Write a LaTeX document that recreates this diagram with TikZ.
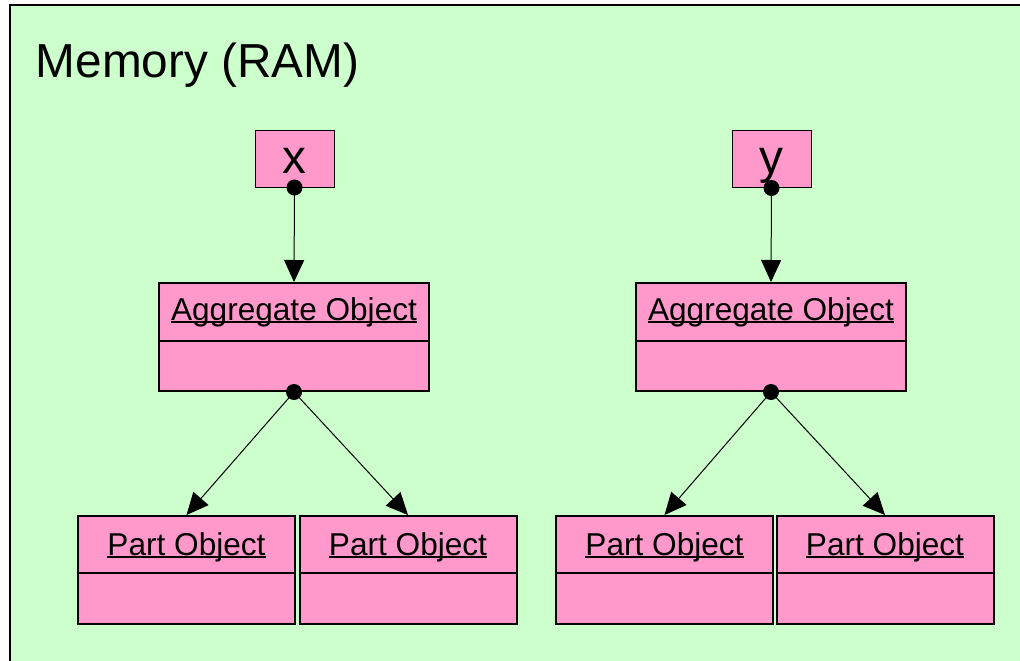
\documentclass[tikz,border=0pt]{standalone}
\usepackage{fontspec}
\setmainfont{Liberation Sans}
\usetikzlibrary{arrows.meta}
\definecolor{ramgreen}{HTML}{CCFFCC}
\definecolor{objpink}{HTML}{FF99CC}
\newcommand\ulx[1]{\setbox0\hbox{#1}\rlap{\vrule width\wd0 height -0.8pt depth 2.3pt}\box0}
\begin{document}
\begin{tikzpicture}[x=0.75pt,y=-0.75pt,
  frame/.style={draw=black, line width=1.5pt, fill=ramgreen},
  varbox/.style={draw=black, line width=0.75pt, fill=objpink, minimum width=59.25pt, minimum height=42.75pt, inner sep=0pt},
  aggbox/.style={draw=black, line width=1.5pt, fill=objpink, minimum width=202.5pt, minimum height=81pt, inner sep=0pt},
  partbox/.style={draw=black, line width=1.5pt, fill=objpink, minimum width=162.75pt, minimum height=81pt, inner sep=0pt},
  divider/.style={line width=1.5pt},
  lbl/.style={font=\fontsize{23.7}{28}\selectfont, inner sep=0pt, anchor=base},
  big/.style={font=\fontsize{35.8}{42}\selectfont, inner sep=0pt, anchor=base},
  link/.style={line width=0.75pt, -{Triangle[length=16.5pt,width=15pt]}},
  dot/.style={circle, fill=black, inner sep=0pt, minimum size=12pt}]
\useasboundingbox (0,0) rectangle (1020,660);
\clip (0,0) rectangle (1020,660);
\fill[white] (0,0) rectangle (1020,660);
\draw[frame] (10,5) rectangle (1040,680);
\node[big, anchor=base west] (title) at (35.5,78) {Memory (RAM)};
% variables
\node[varbox] (xv) at (294.5,158.5) {};
\node[big] (xt) at (294.5,173) {x};
\node[varbox] (yv) at (771.5,159) {};
\node[big] (yt) at (771.5,173) {y};
% aggregates
\node[aggbox] (agg1) at (294,337) {};
\draw[divider] (agg1.west |- 0,341) -- (agg1.east |- 0,341);
\node[lbl] (agg1t) at (294,320) {\ulx{Aggregate Object}};
\node[aggbox] (agg2) at (771,337) {};
\draw[divider] (agg2.west |- 0,341) -- (agg2.east |- 0,341);
\node[lbl] (agg2t) at (771,320) {\ulx{Aggregate Object}};
% parts
\node[partbox] (p1) at (186.5,570) {};
\node[partbox] (p2) at (408,570) {};
\node[partbox] (p3) at (664.5,570) {};
\node[partbox] (p4) at (885,570) {};
\foreach \p in {p1,p2,p3,p4}{
  \draw[divider] (\p.west |- 0,573) -- (\p.east |- 0,573);
  \node[lbl] at (\p.center |- 0,555) {\ulx{Part Object}};
}
% connectors
\draw[link] (xv.south) -- (agg1.north);
\draw[link] (yv.south) -- (agg2.north);
\draw[link] (agg1.south) -- (p1.north);
\draw[link] (agg1.south) -- (p2.north);
\draw[link] (agg2.south) -- (p3.north);
\draw[link] (agg2.south) -- (p4.north);
\node[dot] (d1) at (xv.south) {};
\node[dot] (d2) at (yv.south) {};
\node[dot] (d3) at (agg1.south) {};
\node[dot] (d4) at (agg2.south) {};
\end{tikzpicture}
\end{document}
